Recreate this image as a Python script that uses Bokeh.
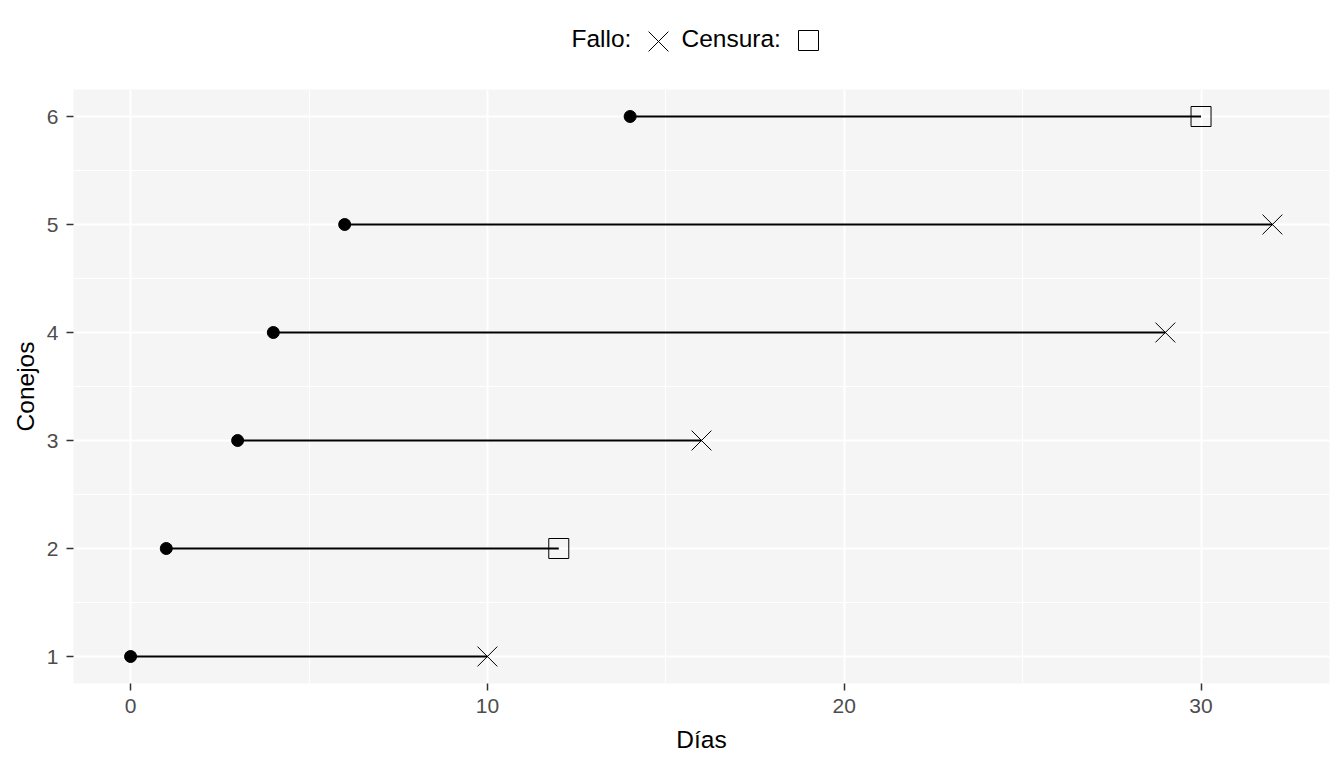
from bokeh.plotting import figure
from bokeh.layouts import column
from bokeh.models import Range1d, FixedTicker, ColumnDataSource
from bokeh.core.properties import value
from bokeh.embed import file_html
from bokeh.resources import INLINE

# ---- data ----
conejo = [1, 2, 3, 4, 5, 6]
inicio = [0, 1, 3, 4, 6, 14]
fin = [10, 12, 16, 29, 32, 30]
estado = ["Fallo", "Censura", "Fallo", "Fallo", "Fallo", "Censura"]
x_ticks = [0, 10, 20, 30]
y_ticks = [1, 2, 3, 4, 5, 6]
leyenda = ["Fallo:", "Censura:"]

FONT = "Liberation Sans"

# ---- layout (pixels) ----
W, H = 1344, 768
TOP = 89                      # height of the legend strip above the panel
BL, BR, BB = 73, 15, 85
MH = H - TOP

xmin, xmax = min(inicio), max(fin)
xpad = 0.05 * (xmax - xmin)
ymin, ymax = min(conejo), max(conejo)
ypad = 0.05 * (ymax - ymin)

# ---- legend strip (pixel coordinates; its frame is aligned with the panel) ----
leg = figure(width=W, height=TOP, output_backend="svg", toolbar_location=None,
             x_range=Range1d(BL, W - BR), y_range=Range1d(TOP, 0),
             min_border=0, min_border_left=0, min_border_right=0,
             min_border_top=0, min_border_bottom=0)
leg.axis.visible = False
leg.grid.visible = False
leg.outline_line_color = None
leg.background_fill_color = "white"
leg.border_fill_color = "white"
LY = 38
leg.text(x=[571, 681], y=[LY, LY], text=leyenda, text_font=value(FONT),
         text_font_size="24.5px", text_color="black",
         text_baseline="middle", text_align="left")
leg.scatter(x=[658], y=[LY + 3], marker="x", size=28, line_color="black", line_width=1)
leg.scatter(x=[808], y=[LY + 2], marker="square", size=20, fill_color=None,
            line_color="black", line_width=1)

# ---- main panel ----
p = figure(width=W, height=MH, output_backend="svg", toolbar_location=None,
           x_range=Range1d(xmin - xpad, xmax + xpad),
           y_range=Range1d(ymin - ypad, ymax + ypad),
           min_border_left=BL, min_border_right=BR,
           min_border_top=0, min_border_bottom=BB)
p.background_fill_color = "#F5F5F5"
p.border_fill_color = "white"
p.outline_line_color = None

x_minor = [(a + b) / 2 for a, b in zip(x_ticks[:-1], x_ticks[1:])]
y_minor = [(a + b) / 2 for a, b in zip(y_ticks[:-1], y_ticks[1:])]
xt = FixedTicker(ticks=x_ticks, minor_ticks=x_minor)
yt = FixedTicker(ticks=y_ticks, minor_ticks=y_minor)
p.xaxis.ticker = xt
p.yaxis.ticker = yt
p.xgrid.ticker = xt
p.ygrid.ticker = yt

for g in (p.xgrid, p.ygrid):
    g.grid_line_color = "white"
    g.grid_line_width = 2
    g.minor_grid_line_color = "white"
    g.minor_grid_line_width = 1

for ax in (p.xaxis, p.yaxis):
    ax.axis_line_color = None
    ax.major_tick_line_color = "#333333"
    ax.major_tick_line_width = 1.5
    ax.major_tick_out = 7
    ax.major_tick_in = 0
    ax.minor_tick_line_color = None
    ax.major_label_text_font = FONT
    ax.major_label_text_font_size = "21px"
    ax.major_label_text_color = "#4D4D4D"
    ax.axis_label_text_font = FONT
    ax.axis_label_text_font_size = "24.5px"
    ax.axis_label_text_font_style = "normal"
    ax.axis_label_text_color = "black"

p.xaxis.axis_label = "Días"
p.yaxis.axis_label = "Conejos"
p.xaxis.major_label_standoff = 8
p.yaxis.major_label_standoff = 8
p.xaxis.axis_label_standoff = 10
p.yaxis.axis_label_standoff = 5

src = ColumnDataSource(dict(conejo=conejo, inicio=inicio, fin=fin, estado=estado))
fallo = ColumnDataSource(dict(
    x=[f for f, e in zip(fin, estado) if e == "Fallo"],
    y=[c for c, e in zip(conejo, estado) if e == "Fallo"]))
censura = ColumnDataSource(dict(
    x=[f for f, e in zip(fin, estado) if e == "Censura"],
    y=[c for c, e in zip(conejo, estado) if e == "Censura"]))

p.segment(x0="inicio", y0="conejo", x1="fin", y1="conejo", source=src,
          line_color="black", line_width=2)
p.scatter(x="inicio", y="conejo", source=src, marker="circle", size=12,
          fill_color="black", line_color="black")
p.scatter(x="x", y="y", source=fallo, marker="x", size=28,
          line_color="black", line_width=1)
p.scatter(x="x", y="y", source=censura, marker="square", size=20,
          fill_color=None, line_color="black", line_width=1)

layout = column(leg, p, spacing=0)
open("out.html", "w").write(file_html(layout, INLINE))
